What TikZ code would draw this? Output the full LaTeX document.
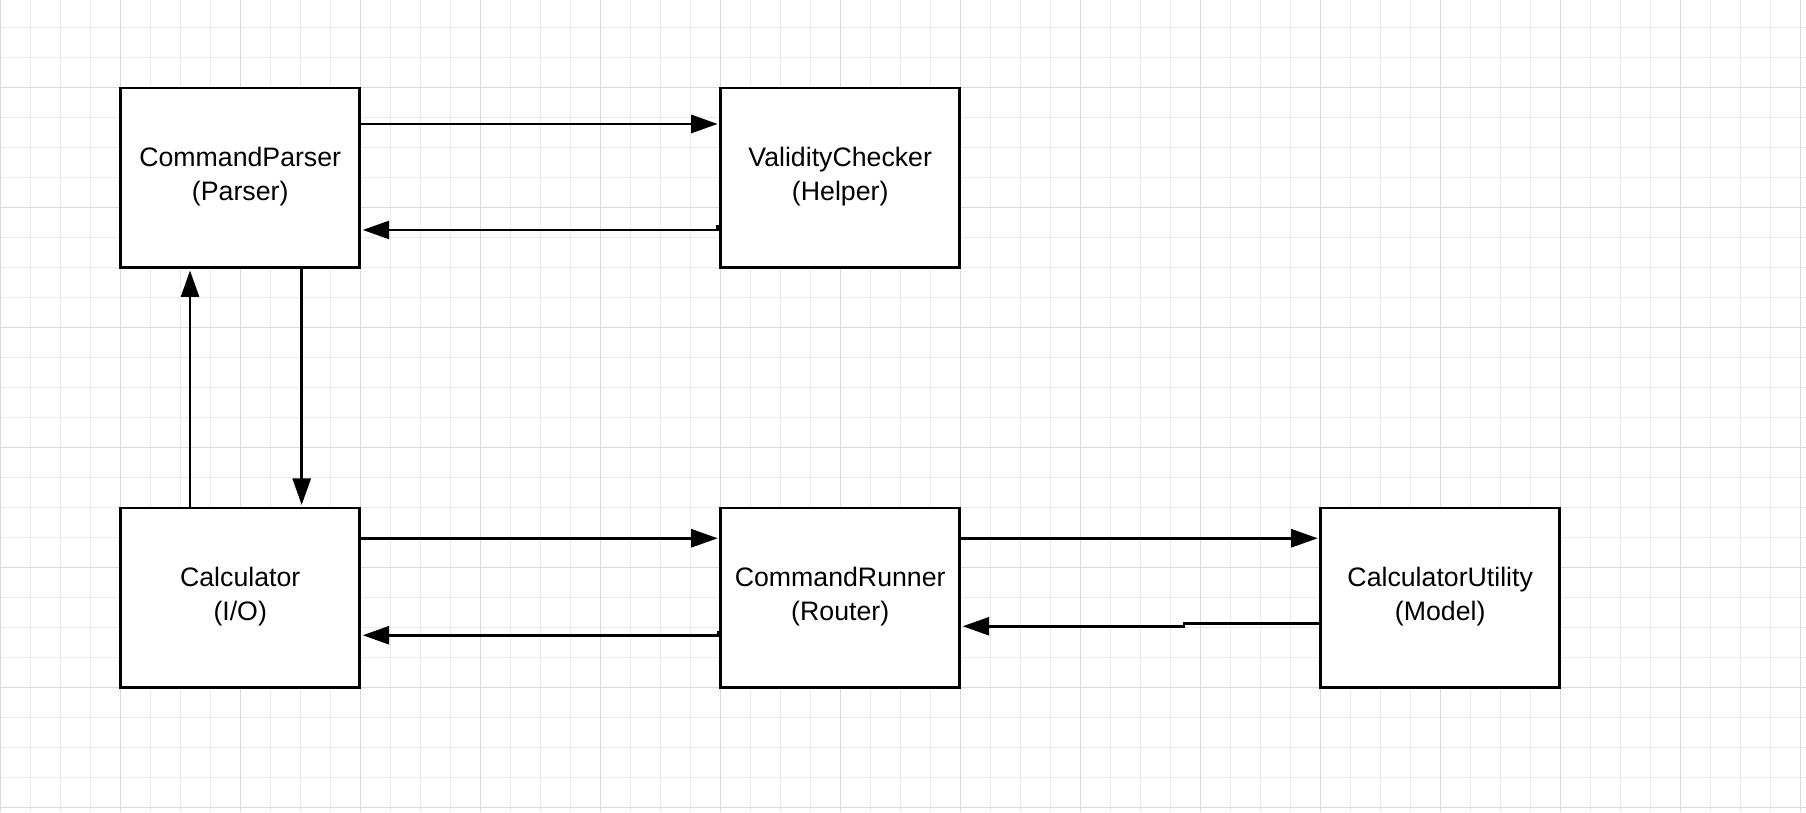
\documentclass[tikz,border=0pt]{standalone}
\usepackage{fontspec}
\setmainfont{Liberation Sans}
\usetikzlibrary{arrows.meta,calc}
\newcommand\twolines[2]{\raisebox{1.05pt}[\height][\depth]{\begin{tabular}{@{}c@{}}#1\\#2\end{tabular}}}
\begin{document}
\begin{tikzpicture}[x=1pt,y=-1pt,
  minorgrid/.style={draw={rgb,255:red,235;green,235;blue,235},line width=1pt},
  majorgrid/.style={draw={rgb,255:red,218;green,218;blue,218},line width=1pt},
  box/.style={draw=black,line width=2.7pt,fill=white,minimum width=239pt,minimum height=179.5pt,
    inner sep=0pt,outer sep=0pt,font=\fontsize{26.7}{33.5}\selectfont},
  conn/.style={line width=2.8pt,-{Triangle[length=26.5pt,width=18pt]},shorten >=3pt}]
\useasboundingbox (0,0) rectangle (1806,812);
\fill[white] (0,0) rectangle (1806,812);
% grid
\foreach \i in {0,...,60} \draw[minorgrid] (\i*30+0.7,0) -- (\i*30+0.7,812);
\foreach \i in {0,...,27} \draw[minorgrid] (0,\i*30-2.7) -- (1806,\i*30-2.7);
\foreach \i in {0,...,15} \draw[majorgrid] (\i*120+0.7,0) -- (\i*120+0.7,812);
\foreach \i in {0,...,6} \draw[majorgrid] (0,\i*120+87.3) -- (1806,\i*120+87.3);
% nodes
\node[box] (cp) at (240.2,177.7) {\twolines{CommandParser}{(Parser)}};
\node[box] (vc) at (840.2,177.7) {\twolines{ValidityChecker}{(Helper)}};
\node[box] (calc) at (240.2,597.7) {\twolines{Calculator}{(I/O)}};
\node[box] (cr) at (840.2,597.7) {\twolines{CommandRunner}{(Router)}};
\node[box] (cu) at (1440.2,597.7) {\twolines{CalculatorUtility}{(Model)}};
% connectors
\draw[conn] ($(cp.north east)+(0,36)$) -- ($(vc.north west)+(0,36)$);
\draw[conn] ($(vc.north west)+(0,138)$) -- ($(vc.north west)+(-3.5,138)$) -- ($(vc.north west)+(-3.5,142)$) -- ($(cp.north east)+(0,142)$);
\draw[conn] ($(cp.south west)+(181,0)$) -- ($(calc.north west)+(181,0)$);
\draw[conn] ($(calc.north west)+(69.3,0)$) -- ($(cp.south west)+(69.3,0)$);
\draw[conn] ($(calc.north east)+(0,30.3)$) -- ($(cr.north west)+(0,30.3)$);
\draw[conn] ($(cr.north west)+(0,124)$) -- ($(cr.north west)+(-2.5,124)$) -- ($(cr.north west)+(-2.5,127.3)$) -- ($(calc.north east)+(0,127.3)$);
\draw[conn] ($(cr.north east)+(0,30.3)$) -- ($(cu.north west)+(0,30.3)$);
\draw[conn] ($(cu.north west)+(0,115.6)$) -- ($(cr.north east)+(224.3,115.6)$) -- ($(cr.north east)+(224.3,118.3)$) -- ($(cr.north east)+(0,118.3)$);
\end{tikzpicture}
\end{document}
